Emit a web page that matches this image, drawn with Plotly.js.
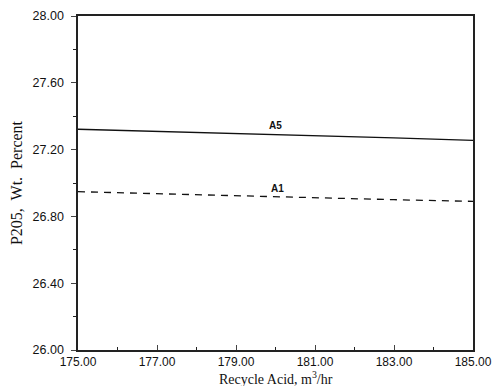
<!DOCTYPE html>
<html><head><meta charset="utf-8">
<script src="https://cdn.plot.ly/plotly-3.0.1.min.js"></script>
<style>body{margin:0;background:#fff}#c{width:493px;height:386px}</style>
</head><body><div id="c"></div>
<script>
const recycleAcid = [175, 177, 179, 181, 183, 185];
const seriesA5 = [27.322, 27.31, 27.298, 27.285, 27.27, 27.255];
const seriesA1 = [26.948, 26.935, 26.925, 26.912, 26.9, 26.89];
const labels = ["A5", "A1"];
const labelX = [180.0, 180.05];
const labelY = [27.345, 26.97];
const xTicks = [175, 177, 179, 181, 183, 185];
const yTicks = [26.0, 26.4, 26.8, 27.2, 27.6, 28.0];
const xTitle = 'Recycle Acid, m<sup>3</sup>/hr';
const yTitle = 'P205,  Wt.  Percent';

const data = [
  {x: recycleAcid, y: seriesA5, mode: 'lines', line: {color: '#111', width: 1.4}, name: labels[0]},
  {x: recycleAcid, y: seriesA1, mode: 'lines', line: {color: '#111', width: 1.3, dash: '7px,6px'}, name: labels[1]}
];
const annotations = labels.map((t, i) => ({x: labelX[i], y: labelY[i], text: '<b>' + t + '</b>', showarrow: false,
  font: {family: 'Liberation Sans, Arial', size: 10, color: '#111'}, yanchor: 'middle'}));
annotations.push({xref: 'paper', yref: 'paper', x: 0.5, y: -0.084, yanchor: 'middle', showarrow: false,
  text: xTitle, font: {family: 'Liberation Serif, DejaVu Serif', size: 14, color: '#111'}});

const layout = {
  width: 493, height: 386, showlegend: false,
  paper_bgcolor: '#fff', plot_bgcolor: '#fff',
  margin: {l: 78, r: 20, t: 16, b: 36},
  xaxis: {range: [175, 185], tickvals: xTicks, tickformat: '.2f', ticks: 'inside', ticklen: 5,
    ticklabelstandoff: 0,
    minor: {dtick: 1, ticks: 'inside', ticklen: 3, tickcolor: '#222'},
    showgrid: false, zeroline: false, showline: true, linecolor: '#222', linewidth: 1.6, mirror: true,
    tickfont: {family: 'Liberation Sans, Arial', size: 12, color: '#111'}},
  yaxis: {range: [26, 28], tickvals: yTicks, tickformat: '.2f', ticks: 'outside', ticklen: 5,
    ticklabelstandoff: 5,
    minor: {dtick: 0.2, ticks: 'outside', ticklen: 3, tickcolor: '#222'},
    showgrid: false, zeroline: false, showline: true, linecolor: '#222', linewidth: 1.6, mirror: true,
    tickfont: {family: 'Liberation Sans, Arial', size: 12.5, color: '#111'},
    title: {text: yTitle, standoff: 6,
      font: {family: 'Liberation Serif, DejaVu Serif', size: 16, color: '#111'}}},
  annotations: annotations
};
Plotly.newPlot('c', data, layout, {staticPlot: true});
</script></body></html>
